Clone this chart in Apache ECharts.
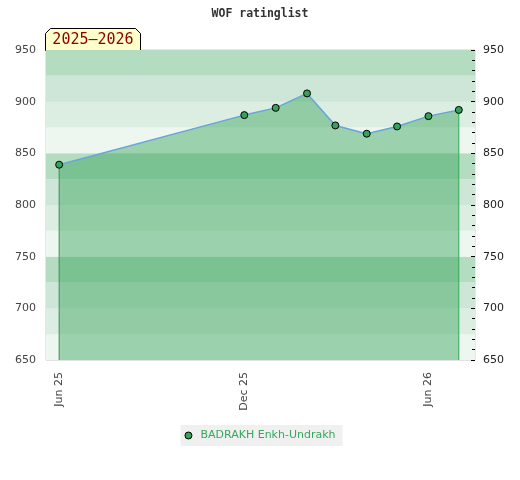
<!DOCTYPE html>
<html>
<head>
<meta charset="utf-8">
<script src="https://cdn.jsdelivr.net/npm/echarts@6/dist/echarts.min.js"></script>
<style>html,body{margin:0;padding:0;background:#fff}#c{width:520px;height:480px}</style>
</head>
<body>
<div id="c"></div>
<script>
const dates = ['2025-06-01','2025-12-01','2026-01-01','2026-02-01','2026-03-01','2026-04-01','2026-05-01','2026-06-01','2026-07-01'];
const ratings = [839, 887, 894, 908, 877, 869, 876, 886, 892];
const tickDates = ['2025-06-01','2025-12-01','2026-06-01'];
const tickLabels = ['Jun 25','Dec 25','Jun 26'];
const playerName = 'BADRAKH Enkh-Undrakh';
const seasonLabel = '2025\u20132026';
const yMin = 650, yMax = 950;

function ts(s){ const p = s.split('-').map(Number); return Date.UTC(p[0], p[1]-1, p[2]); }
const tickTs = tickDates.map(ts);
const pts = dates.map((d, i) => [ts(d), ratings[i]]);
const first = pts[0];
const last = pts[pts.length-1];

const chart = echarts.init(document.getElementById('c'), null, {renderer:'canvas'});

function edge(p, color){
  return {
    type: 'line', silent: true, symbol: 'none', z: 2,
    data: [[p[0], yMin], [p[0], p[1]]],
    lineStyle: {color: color, width: 1},
    emphasis: {disabled: true}, tooltip: {show: false}
  };
}

chart.setOption({
  animation: false,
  backgroundColor: '#fff',
  title: {
    text: 'WOF ratinglist', left: 'center', top: 3,
    textStyle: {fontFamily: 'DejaVu Sans Mono', fontWeight: 'bold', fontSize: 11.5, color: '#333'}
  },
  legend: {
    bottom: 34, left: 'center',
    backgroundColor: '#f0f0f0',
    padding: [5, 7, 5, 4],
    itemWidth: 14, itemHeight: 7,
    icon: 'circle',
    itemStyle: {color: '#35a25c', borderColor: '#000', borderWidth: 1},
    textStyle: {fontFamily: 'DejaVu Sans', fontSize: 11, color: '#35a85c'},
    data: [playerName]
  },
  grid: {left: 46, right: 45, top: 50, bottom: 120, show: true, borderColor: '#d0d0d0', borderWidth: 1, backgroundColor: 'transparent'},
  xAxis: {
    type: 'value',
    min: ts('2025-05-19'), max: ts('2026-07-17'),
    axisLine: {show: false}, axisTick: {show: false}, splitLine: {show: false},
    axisLabel: {
      rotate: 90, margin: 12, fontFamily: 'DejaVu Sans', fontSize: 11, color: '#444',
      customValues: tickTs,
      formatter: function(v){ const i = tickTs.indexOf(v); return i >= 0 ? tickLabels[i] : ''; }
    }
  },
  yAxis: [
    {
      type: 'value', min: yMin, max: yMax, interval: 50, position: 'left',
      axisLine: {show: false}, axisTick: {show: false},
      axisLabel: {margin: 10, fontFamily: 'DejaVu Sans', fontSize: 11, color: '#444'},
      splitLine: {show: true, lineStyle: {color: 'rgba(220,220,220,0.45)', width: 1}}
    },
    {
      type: 'value', min: yMin, max: yMax, interval: 50, position: 'right',
      axisLine: {show: false},
      axisTick: {show: true, inside: true, length: 4, lineStyle: {color: '#000'}},
      minorTick: {show: true, splitNumber: 5, length: 3, lineStyle: {color: '#000'}},
      axisLabel: {margin: 8, fontFamily: 'DejaVu Sans', fontSize: 11, color: '#222'},
      splitLine: {show: false}
    },
    {
      type: 'value', min: yMin, max: yMax, interval: 25, position: 'left',
      axisLine: {show: false}, axisTick: {show: false}, axisLabel: {show: false},
      splitLine: {show: false},
      splitArea: {show: true, areaStyle: {color: ['#eef6f0', '#dcede2', '#cde6d7', '#b3dcc0']}}
    }
  ],
  series: [
    {
      name: playerName,
      type: 'line',
      yAxisIndex: 0,
      data: pts,
      symbol: 'circle', symbolSize: 7,
      itemStyle: {color: '#35a25c', borderColor: '#000', borderWidth: 1},
      lineStyle: {color: '#66a6dc', width: 1.5},
      areaStyle: {color: '#31a255', opacity: 0.44, origin: 'start'},
      z: 3
    },
    edge(first, '#3a8c55'),
    edge(last, '#2db352')
  ],
  graphic: [{
    type: 'group', left: 45, top: 28, z: 10,
    children: [
      {type: 'polygon', shape: {points: [[0,22],[0,5],[5,0],[90,0],[95,5],[95,22]]},
       style: {fill: '#ffffcc', stroke: '#000', lineWidth: 1}},
      {type: 'text', x: 47.5, y: 12, style: {text: seasonLabel, fill: '#8b0000', font: '15px "DejaVu Sans Mono"', align: 'center', verticalAlign: 'middle'}}
    ]
  }]
});
</script>
</body>
</html>
